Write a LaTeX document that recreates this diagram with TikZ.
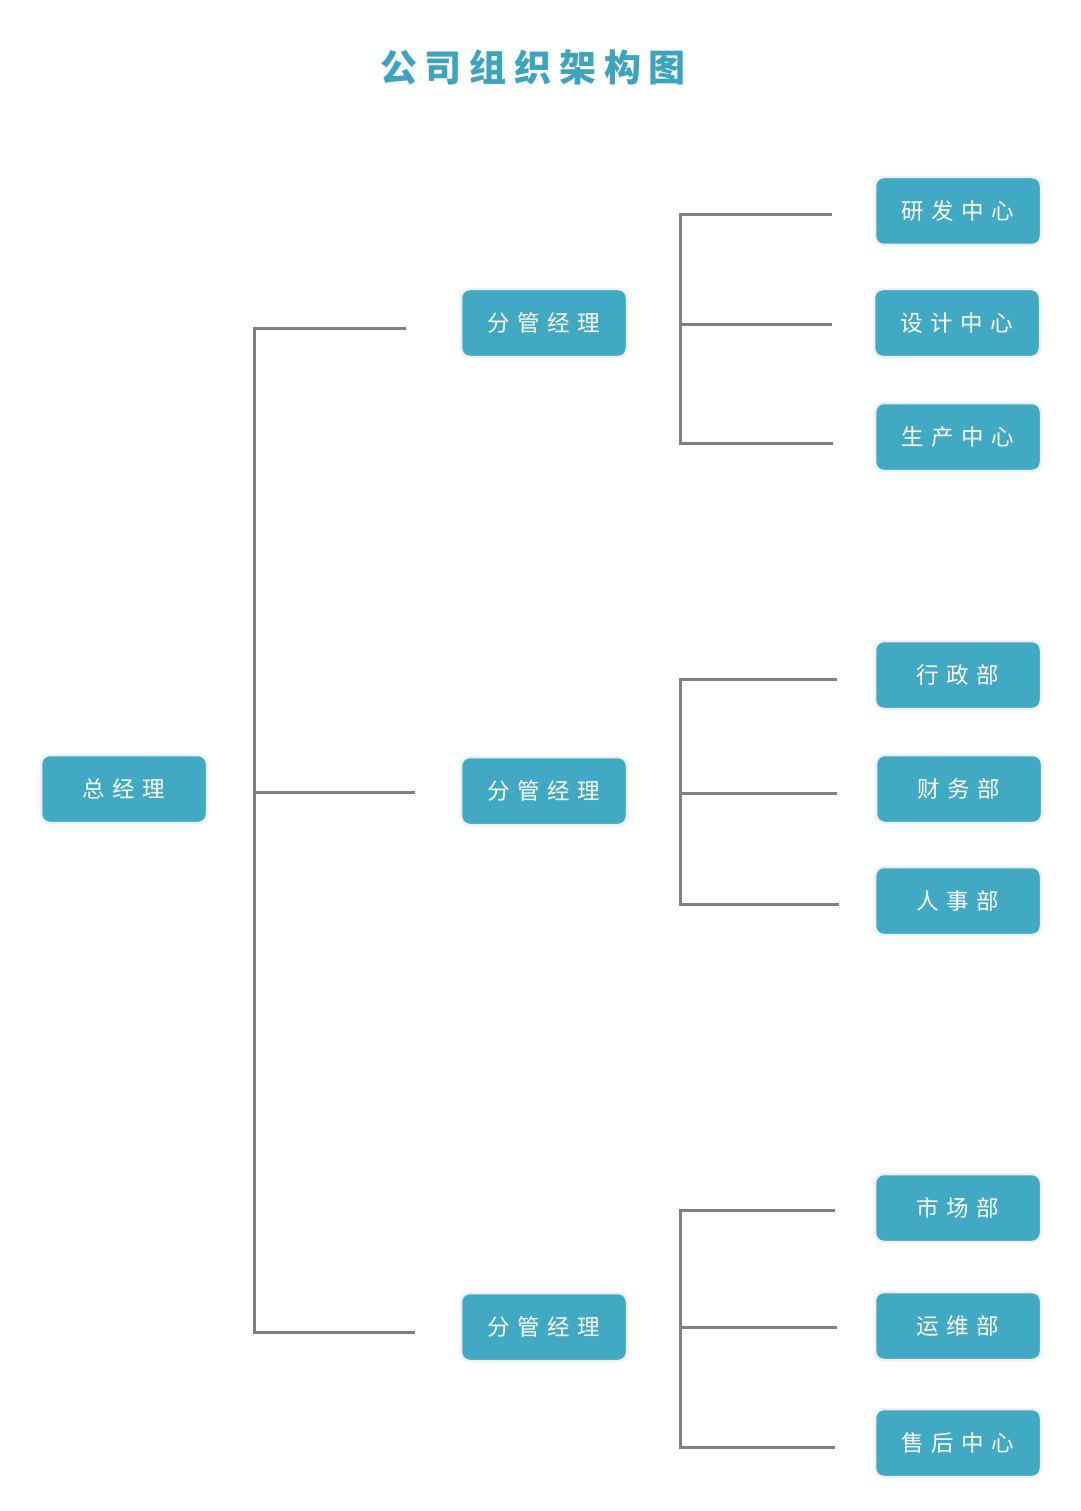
\documentclass[tikz,border=0pt]{standalone}
\usepackage{fontspec}
\newfontfamily\cjkbox[LetterSpace=34]{Noto Sans CJK SC}
\newfontfamily\cjktitle[LetterSpace=21]{Noto Sans CJK SC}
\definecolor{boxfill}{HTML}{42A9C4}
\definecolor{titlecol}{HTML}{3DA4BF}
\definecolor{linecol}{HTML}{808080}
\definecolor{rimcol}{HTML}{EDF1F3}
\tikzset{
  orgbox/.style={rectangle, rounded corners=9pt, fill=boxfill, draw=rimcol, line width=2.5pt,
    minimum width=166pt, minimum height=68pt, inner sep=0pt, text=white,
    font=\cjkbox\fontsize{22.5pt}{26pt}\selectfont},
  conn/.style={draw=linecol, line width=3pt, line join=miter, line cap=rect}
}
\newcommand{\lsptrim}[1]{#1\hspace{-7.6pt}}
\begin{document}
\begin{tikzpicture}[x=1pt,y=-1pt]
\fill[white] (0,0) rectangle (1080,1511);
\useasboundingbox (0,0) rectangle (1080,1511);

\node[text=titlecol, font=\cjktitle\bfseries\fontsize{37pt}{40pt}\selectfont, inner sep=0pt] (title) at (533,67) {公司组织架构图\hspace{-7.8pt}};

\node[orgbox] (gm) at (124,789) {\lsptrim{总经理}};
\node[orgbox] (m1) at (544,323) {\lsptrim{分管经理}};
\node[orgbox] (m2) at (544,791) {\lsptrim{分管经理}};
\node[orgbox] (m3) at (544,1327) {\lsptrim{分管经理}};

\node[orgbox] (c1) at (958,211) {\lsptrim{研发中心}};
\node[orgbox] (c2) at (957,323) {\lsptrim{设计中心}};
\node[orgbox] (c3) at (958,437) {\lsptrim{生产中心}};
\node[orgbox] (c4) at (958,675) {\lsptrim{行政部}};
\node[orgbox] (c5) at (959,789) {\lsptrim{财务部}};
\node[orgbox] (c6) at (958,901) {\lsptrim{人事部}};
\node[orgbox] (c7) at (958,1208) {\lsptrim{市场部}};
\node[orgbox] (c8) at (958,1326) {\lsptrim{运维部}};
\node[orgbox] (c9) at (958,1443) {\lsptrim{售后中心}};

% trunk
\coordinate (t1) at (254,328); \coordinate (a1) at (404,328);
\coordinate (t2) at (254,792); \coordinate (a2) at (413,792);
\coordinate (t3) at (254,1332); \coordinate (a3) at (413,1332);
\draw[conn] (a1) -- (t1) -- (t3) -- (a3);
\draw[conn] (t2) -- (a2);

% group 1
\coordinate (g1a) at (680,215); \coordinate (e1a) at (830,215);
\coordinate (g1b) at (680,324); \coordinate (e1b) at (830,324);
\coordinate (g1c) at (680,443); \coordinate (e1c) at (831,443);
\draw[conn] (e1a) -- (g1a) -- (g1c) -- (e1c);
\draw[conn] (g1b) -- (e1b);

% group 2
\coordinate (g2a) at (680,679); \coordinate (e2a) at (835,679);
\coordinate (g2b) at (680,793); \coordinate (e2b) at (835,793);
\coordinate (g2c) at (680,904); \coordinate (e2c) at (837,904);
\draw[conn] (e2a) -- (g2a) -- (g2c) -- (e2c);
\draw[conn] (g2b) -- (e2b);

% group 3
\coordinate (g3a) at (680,1210); \coordinate (e3a) at (833,1210);
\coordinate (g3b) at (680,1327); \coordinate (e3b) at (835,1327);
\coordinate (g3c) at (680,1447); \coordinate (e3c) at (833,1447);
\draw[conn] (e3a) -- (g3a) -- (g3c) -- (e3c);
\draw[conn] (g3b) -- (e3b);
\end{tikzpicture}
\end{document}
